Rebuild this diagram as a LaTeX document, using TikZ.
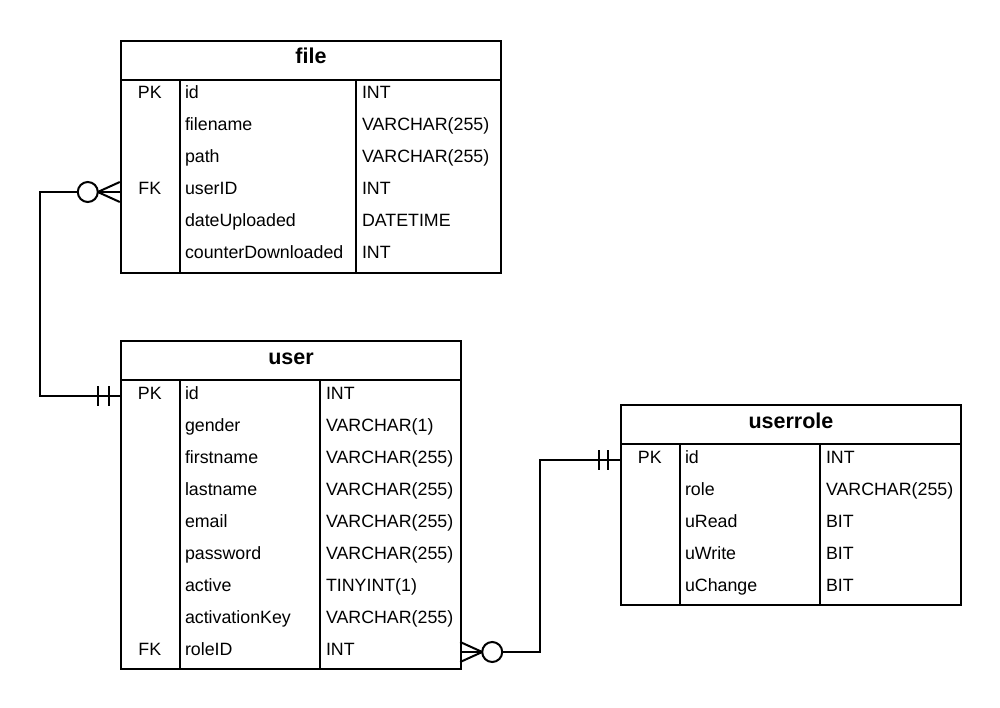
\documentclass[tikz,border=0pt]{standalone}
\usepackage{fontspec}
\setmainfont{Liberation Sans}
\begin{document}
\begin{tikzpicture}[x=1pt,y=-1pt,
  tbl/.style={draw, line width=2pt, fill=white, inner sep=0pt, anchor=north west, minimum height=#1},
  sep/.style={line width=2pt},
  rowbox/.style={inner sep=0pt, minimum height=32pt},
  hdr/.style={font=\bfseries\fontsize{21.5}{24}\selectfont, anchor=base, inner sep=0pt},
  keytxt/.style={font=\fontsize{17.8}{20}\selectfont, anchor=base, inner sep=0pt},
  celltxt/.style={font=\fontsize{17.8}{20}\selectfont, anchor=base west, inner sep=0pt},
  conn/.style={line width=2pt},
  zerocirc/.style={circle, draw, fill=white, line width=2pt, minimum size=20pt, inner sep=0pt}
]
\useasboundingbox (0,0) rectangle (1000,708);

% ---------------- file table ----------------
\node[tbl=232pt, minimum width=380pt] (file) at (120,40) {};
\node[hdr] (file-title) at ([yshift=-24pt]file.north) {file};
\draw[sep] ([yshift=-40pt]file.north west) -- ([yshift=-40pt]file.north east);
\draw[sep] ([xshift=60pt,yshift=-40pt]file.north west) -- ([xshift=60pt]file.south west);
\draw[sep] ([xshift=236pt,yshift=-40pt]file.north west) -- ([xshift=236pt]file.south west);
\foreach \k/\n/\t [count=\i] in {PK/id/INT, /filename/VARCHAR(255), /path/VARCHAR(255), FK/userID/INT, /dateUploaded/DATETIME, /counterDownloaded/INT}{
  \node[rowbox, minimum width=380pt] (file-r\i) at ({310},{64+32*\i}) {};
  \node[keytxt] (file-k\i) at ([xshift=30pt,yshift=-3pt]file-r\i.west) {\k};
  \node[celltxt] (file-n\i) at ([xshift=65pt,yshift=-3pt]file-r\i.west) {\n};
  \node[celltxt] (file-t\i) at ([xshift=242pt,yshift=-3pt]file-r\i.west) {\t};
}

% ---------------- user table ----------------
\node[tbl=328pt, minimum width=340pt] (user) at (120,340) {};
\node[hdr] (user-title) at ([yshift=-24pt]user.north) {user};
\draw[sep] ([yshift=-40pt]user.north west) -- ([yshift=-40pt]user.north east);
\draw[sep] ([xshift=60pt,yshift=-40pt]user.north west) -- ([xshift=60pt]user.south west);
\draw[sep] ([xshift=200pt,yshift=-40pt]user.north west) -- ([xshift=200pt]user.south west);
\foreach \k/\n/\t [count=\i] in {PK/id/INT, /gender/VARCHAR(1), /firstname/VARCHAR(255), /lastname/VARCHAR(255), /email/VARCHAR(255), /password/VARCHAR(255), /active/TINYINT(1), /activationKey/VARCHAR(255), FK/roleID/INT}{
  \node[rowbox, minimum width=340pt] (user-r\i) at ({290},{364+32*\i}) {};
  \node[keytxt] (user-k\i) at ([xshift=30pt,yshift=-3pt]user-r\i.west) {\k};
  \node[celltxt] (user-n\i) at ([xshift=65pt,yshift=-3pt]user-r\i.west) {\n};
  \node[celltxt] (user-t\i) at ([xshift=206pt,yshift=-3pt]user-r\i.west) {\t};
}

% ---------------- userrole table ----------------
\node[tbl=200pt, minimum width=340pt] (role) at (620,404) {};
\node[hdr] (role-title) at ([yshift=-24pt]role.north) {userrole};
\draw[sep] ([yshift=-40pt]role.north west) -- ([yshift=-40pt]role.north east);
\draw[sep] ([xshift=60pt,yshift=-40pt]role.north west) -- ([xshift=60pt]role.south west);
\draw[sep] ([xshift=200pt,yshift=-40pt]role.north west) -- ([xshift=200pt]role.south west);
\foreach \k/\n/\t [count=\i] in {PK/id/INT, /role/VARCHAR(255), /uRead/BIT, /uWrite/BIT, /uChange/BIT}{
  \node[rowbox, minimum width=340pt] (role-r\i) at ({790},{428+32*\i}) {};
  \node[keytxt] (role-k\i) at ([xshift=30pt,yshift=-3pt]role-r\i.west) {\k};
  \node[celltxt] (role-n\i) at ([xshift=65pt,yshift=-3pt]role-r\i.west) {\n};
  \node[celltxt] (role-t\i) at ([xshift=206pt,yshift=-3pt]role-r\i.west) {\t};
}

% ---------------- connector file.userID -> user.id ----------------
\draw[conn] (file-r4.west) -- ++(-80pt,0) |- (user-r1.west);
\draw[conn] ([xshift=-22pt]file-r4.west) -- ([yshift=10pt]file-r4.west);
\draw[conn] ([xshift=-22pt]file-r4.west) -- ([yshift=-10pt]file-r4.west);
\node[zerocirc] (c1) at ([xshift=-32pt]file-r4.west) {};
\draw[conn] ([xshift=-22pt,yshift=10pt]user-r1.west) -- ([xshift=-22pt,yshift=-10pt]user-r1.west);
\draw[conn] ([xshift=-11pt,yshift=10pt]user-r1.west) -- ([xshift=-11pt,yshift=-10pt]user-r1.west);

% ---------------- connector user.roleID -> userrole.id ----------------
\draw[conn] (user-r9.east) -- ++(80pt,0) |- (role-r1.west);
\draw[conn] ([xshift=22pt]user-r9.east) -- ([yshift=10pt]user-r9.east);
\draw[conn] ([xshift=22pt]user-r9.east) -- ([yshift=-10pt]user-r9.east);
\node[zerocirc] (c2) at ([xshift=32pt]user-r9.east) {};
\draw[conn] ([xshift=-21pt,yshift=10pt]role-r1.west) -- ([xshift=-21pt,yshift=-10pt]role-r1.west);
\draw[conn] ([xshift=-12pt,yshift=10pt]role-r1.west) -- ([xshift=-12pt,yshift=-10pt]role-r1.west);
\end{tikzpicture}
\end{document}
